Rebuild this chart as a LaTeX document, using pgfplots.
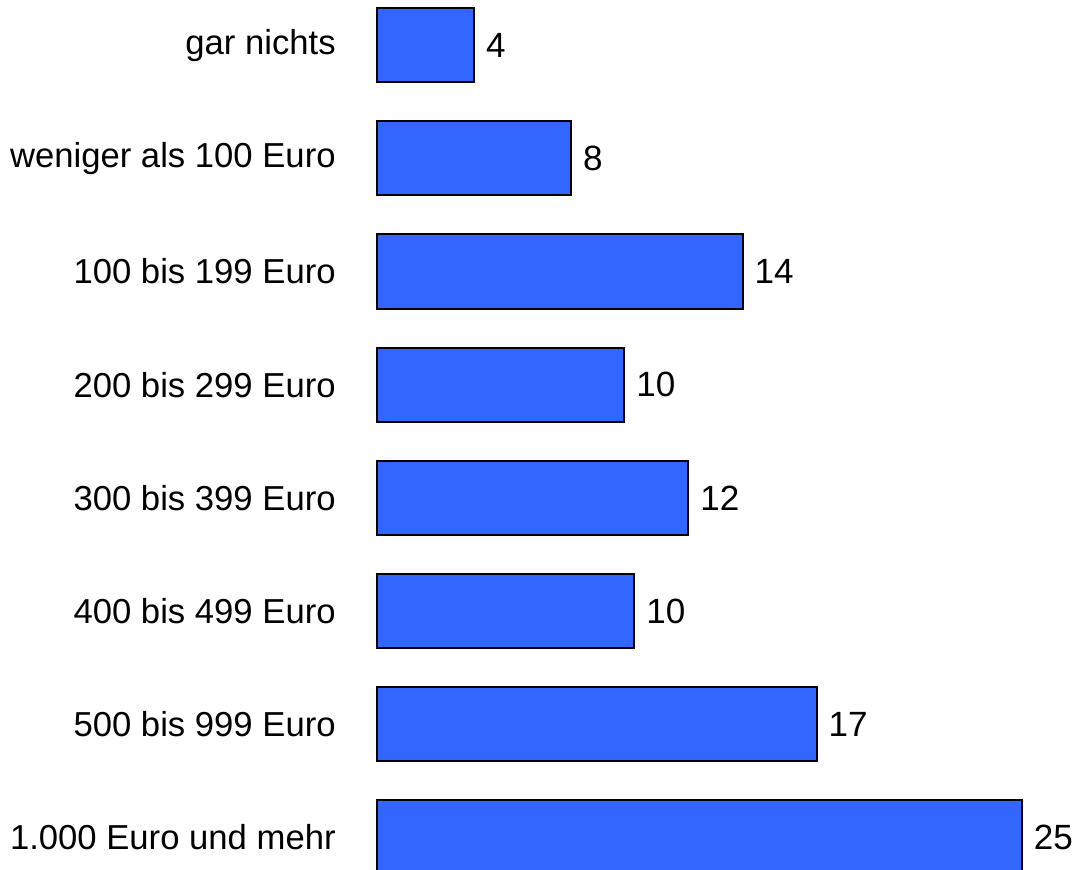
\documentclass[border=0pt]{standalone}
\usepackage{fontspec}
\setmainfont{Liberation Sans}
\usepackage{pgfplots}
\pgfplotsset{compat=1.18}
\definecolor{barblue}{RGB}{51,102,255}
\begin{document}
\begin{tikzpicture}
\begin{axis}[
  xbar,
  scale only axis,
  width=344.5pt, height=434pt,
  xmin=-0.12, xmax=26.63,
  ymin=-0.398, ymax=7.283,
  y dir=reverse,
  bar width=37pt,
  axis line style={draw=none},
  tick style={draw=none},
  xtick=\empty,
  ytick={0,...,7},
  yticklabels={gar nichts, weniger als 100 Euro, 100 bis 199 Euro, 200 bis 299 Euro,
    300 bis 399 Euro, 400 bis 499 Euro, 500 bis 999 Euro, 1.000 Euro und mehr},
  yticklabel style={font=\fontsize{17.3}{21}\selectfont, inner xsep=5pt, xshift=-9.55pt},
  nodes near coords,
  nodes near coords style={font=\fontsize{17.5}{21}\selectfont, inner sep=0pt, xshift=5.5pt,
    /pgf/number format/assume math mode=true,
    /pgf/number format/fixed, /pgf/number format/precision=0},
  clip=true,
  clip mode=individual,
]
\addplot[fill=barblue, draw=black, line width=1pt] coordinates {
  (3.77,0) (7.53,1) (14.17,2) (9.59,3) (12.07,4) (9.98,5) (17.04,6) (25.0,7)
};
\end{axis}
\end{tikzpicture}
\end{document}
